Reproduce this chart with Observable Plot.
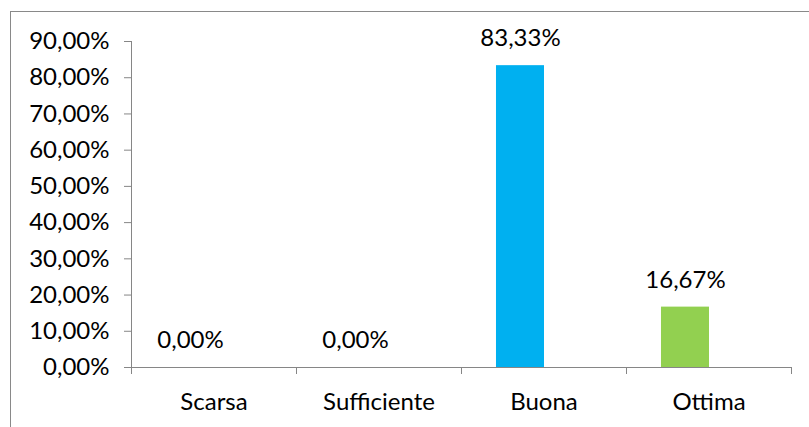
<!DOCTYPE html>
<html>
<head>
<meta charset="utf-8">
<script src="https://cdn.jsdelivr.net/npm/d3@7"></script>
<script src="https://cdn.jsdelivr.net/npm/@observablehq/plot@0.6"></script>
<style>
  html, body { margin: 0; padding: 0; background: #fff; }
  #wrap { position: relative; width: 809px; height: 427px; overflow: hidden; }
  #border { position: absolute; left: 10px; top: 11px; width: 900px; height: 500px;
            border-left: 1px solid #898989; border-top: 1px solid #898989; }
  #chart { position: absolute; left: 0; top: 0; }
  #chart svg [aria-label="y-axis tick"], #chart svg [aria-label="x-axis tick"] { stroke: #868686; }
</style>
</head>
<body>
<div id="wrap"><div id="border"></div><div id="chart"></div></div>
<script>
const categories = ["Scarsa", "Sufficiente", "Buona", "Ottima"];
const values = [0, 0, 0.8333, 0.1667];
const valueLabels = ["0,00%", "0,00%", "83,33%", "16,67%"];
const colors = ["#00B0F0", "#00B0F0", "#00B0F0", "#92D050"];
const yTicks = [0, 0.1, 0.2, 0.3, 0.4, 0.5, 0.6, 0.7, 0.8, 0.9];

const data = categories.map((c, i) => ({ i, c, v: values[i], label: valueLabels[i], color: colors[i] }));
const barStart = 0.212, barEnd = 0.503; // bar position within each category slot (clustered-bar offset)
const barMid = (barStart + barEnd) / 2;
const fmt = d => (d * 100).toFixed(2).replace(".", ",") + "%";

const plot = Plot.plot({
  width: 809,
  height: 427,
  marginLeft: 131,
  marginRight: 18,
  marginTop: 41,
  marginBottom: 60,
  style: { fontFamily: "Lato, 'Open Sans', sans-serif", fontSize: "24px", color: "#000", background: "transparent", overflow: "visible" },
  x: { domain: [0, categories.length], ticks: d3.range(categories.length + 1), tickSize: 7, tickFormat: () => "", label: null },
  y: { domain: [0, 0.9], ticks: yTicks, tickSize: 7, tickPadding: 15, tickFormat: fmt, label: null },
  marks: [
    Plot.rectY(data, { x1: d => d.i + barStart, x2: d => d.i + barEnd, y: "v", fill: "color" }),
    Plot.ruleY([0], { stroke: "#868686" }),
    Plot.ruleX([0], { stroke: "#868686" }),
    Plot.text(data, { x: d => d.i + barMid, y: "v", text: "label", dy: -27, fill: "#000" }),
    Plot.text(data, { x: d => d.i + 0.5, y: 0, text: "c", dy: 35, fill: "#000" })
  ]
});
document.getElementById("chart").appendChild(plot);
</script>
</body>
</html>
